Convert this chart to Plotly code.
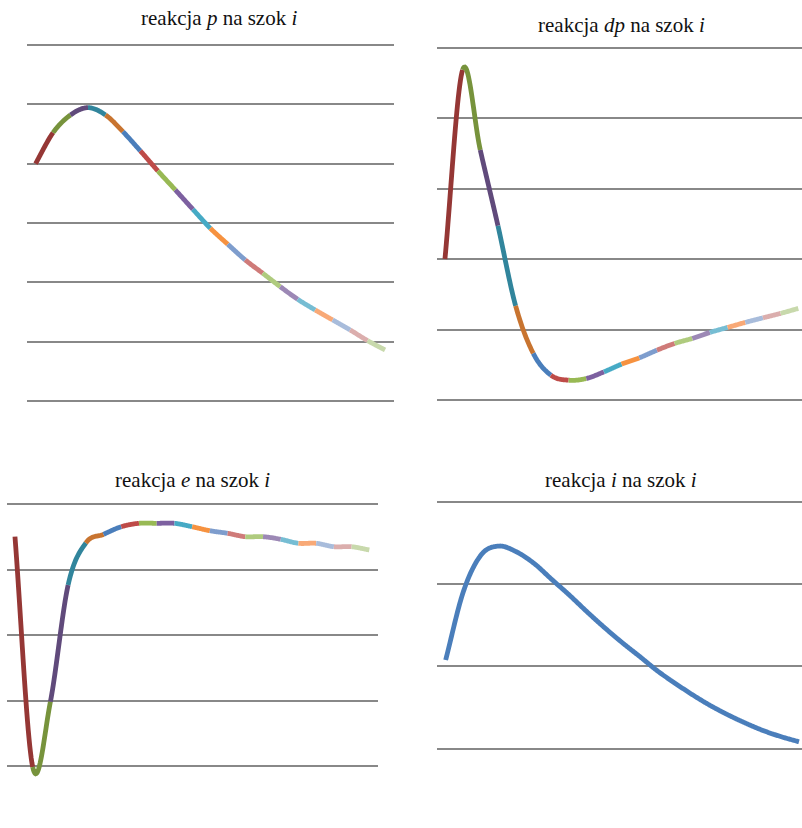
import plotly.graph_objects as go

W, H = 802, 828

# ---------------- data ----------------
steps = list(range(21))
p_resp = [0.0, 0.522, 0.821, 0.944, 0.821, 0.539, 0.214, -0.123, -0.443, -0.769,
          -1.089, -1.359, -1.623, -1.847, -2.073, -2.286, -2.466, -2.634, -2.803,
          -2.983, -3.140]
dp_resp = [0.0, 2.685, 1.548, 0.473, -0.663, -1.339, -1.648, -1.719, -1.695, -1.601,
           -1.491, -1.402, -1.293, -1.197, -1.126, -1.041, -0.970, -0.899, -0.834,
           -0.771, -0.700]
e_resp = [-0.499, -4.015, -3.018, -1.237, -0.595, -0.463, -0.347, -0.295, -0.295,
          -0.295, -0.347, -0.408, -0.447, -0.499, -0.499, -0.539, -0.600, -0.600,
          -0.652, -0.652, -0.702]
i_resp = [0.077, 0.906, 1.352, 1.461, 1.392, 1.251, 1.057, 0.866, 0.663, 0.469,
          0.287, 0.117, -0.057, -0.207, -0.349, -0.478, -0.591, -0.692, -0.782,
          -0.855, -0.916]

titles = ["reakcja <i>p</i> na szok <i>i</i>",
          "reakcja <i>dp</i> na szok <i>i</i>",
          "reakcja <i>e</i> na szok <i>i</i>",
          "reakcja <i>i</i> na szok <i>i</i>"]

# per-point colours (Excel "vary colours by point")
seg_colors = ["#953735", "#77933C", "#604A7B", "#31859C", "#C87430", "#4A7EBB",
              "#BE4B48", "#98B954", "#7D60A0", "#46AAC5", "#F69240", "#7E9DCD",
              "#CF7B79", "#AFCB7E", "#9C88B5", "#76BDD3", "#F8A977", "#A8BCDB",
              "#DBAEAD", "#C8D9AC"]
single_color = "#4A7EBB"


# ---------------- helpers ----------------
def smooth_segment(vals, s, n=24):
    """Smoothed (Catmull-Rom) drawing path between point s and s+1."""
    m = len(vals)
    p1 = vals[s]
    p2 = vals[s + 1]
    p0 = vals[s - 1] if s > 0 else 2 * p1 - p2
    p3 = vals[s + 2] if s + 2 < m else 2 * p2 - p1
    xs, ys = [], []
    for j in range(n + 1):
        t = j / n
        y = 0.5 * (2 * p1 + (-p0 + p2) * t + (2 * p0 - 5 * p1 + 4 * p2 - p3) * t * t
                   + (-p0 + 3 * p1 - 3 * p2 + p3) * t ** 3)
        xs.append(steps[s] + t)
        ys.append(y)
    return xs, ys


fig = go.Figure()

# panel layout: x pixel extent, x range, vertical domain px, gridline pixel calibration
panels = [
    dict(vals=p_resp, multi=True, xpx=(27, 394), xr=(-0.49, 20.51),
         dom=(35, 412), vtop=2, ytop=45, vbot=-4, ybot=401, title_xy=(219, 18)),
    dict(vals=dp_resp, multi=True, xpx=(437, 802), xr=(-0.45, 20.21),
         dom=(38, 410), vtop=3, ytop=47.7, vbot=-2, ybot=400, title_xy=(621, 25)),
    dict(vals=e_resp, multi=True, xpx=(7, 378), xr=(-0.45, 20.49),
         dom=(494, 786), vtop=0, ytop=504, vbot=-4, ybot=766, title_xy=(192, 480)),
    dict(vals=i_resp, multi=False, xpx=(437, 802), xr=(-0.49, 20.17),
         dom=(492, 760), vtop=2, ytop=501.7, vbot=-1, ybot=748.7, title_xy=(621, 480)),
]

LW = 4.8
annotations = []
for k, pn in enumerate(panels):
    ax = "" if k == 0 else str(k + 1)
    xa, ya = "x" + ax, "y" + ax
    vals = pn["vals"]
    if pn["multi"]:
        for s in range(len(vals) - 1):
            xs, ys = smooth_segment(vals, s)
            fig.add_trace(go.Scatter(x=xs, y=ys, mode="lines", xaxis=xa, yaxis=ya,
                                     line=dict(color=seg_colors[s], width=LW,
                                               simplify=False),
                                     showlegend=False, hoverinfo="skip"))
    else:
        X, Y = [], []
        for s in range(len(vals) - 1):
            xs, ys = smooth_segment(vals, s)
            if s > 0:
                xs, ys = xs[1:], ys[1:]
            X += xs
            Y += ys
        fig.add_trace(go.Scatter(x=X, y=Y, mode="lines", xaxis=xa, yaxis=ya,
                                 line=dict(color=single_color, width=LW,
                                           simplify=False),
                                 showlegend=False, hoverinfo="skip"))

    u = (pn["ybot"] - pn["ytop"]) / (pn["vtop"] - pn["vbot"])
    T, B = pn["dom"]
    yr = [pn["vbot"] - (B - pn["ybot"]) / u, pn["vtop"] + (pn["ytop"] - T) / u]

    fig.layout["xaxis" + ax] = dict(
        domain=[pn["xpx"][0] / W, pn["xpx"][1] / W], range=list(pn["xr"]),
        showgrid=False, zeroline=False, showline=False, showticklabels=False,
        ticks="", anchor=ya, fixedrange=True)
    fig.layout["yaxis" + ax] = dict(
        domain=[1 - B / H, 1 - T / H], range=yr, tick0=0, dtick=1,
        showgrid=True, gridcolor="#888888", gridwidth=1.5,
        zeroline=False, showline=False, showticklabels=False, ticks="",
        anchor=xa, fixedrange=True)

    cx, cy = pn["title_xy"]
    annotations.append(dict(text=titles[k], x=cx / W, y=1 - cy / H, xref="paper",
                            yref="paper", xanchor="center", yanchor="middle",
                            showarrow=False,
                            font=dict(family="Liberation Serif", size=21, color="#111111")))

fig.update_layout(width=W, height=H, margin=dict(l=0, r=0, t=0, b=0),
                  paper_bgcolor="white", plot_bgcolor="white",
                  annotations=annotations, showlegend=False)

fig.write_html("out.html", config={"displayModeBar": False},
               post_script="document.body.style.margin='0';document.body.style.overflow='hidden';")
